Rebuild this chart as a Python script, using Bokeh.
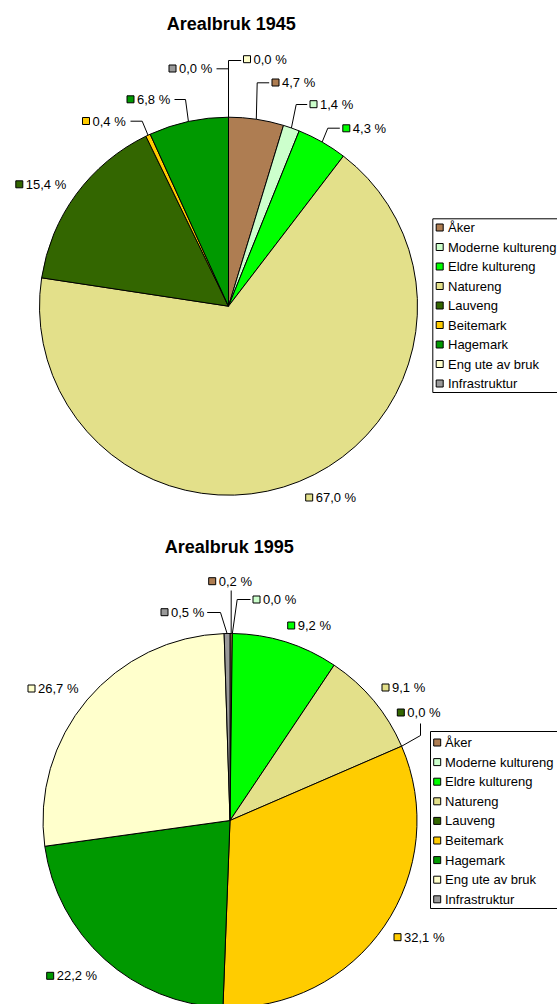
import math
from bokeh.plotting import figure
from bokeh.models import Range1d, ColumnDataSource
from bokeh.core.properties import value
from bokeh.embed import file_html
from bokeh.resources import INLINE

# ---------------- data ----------------
categories = ["Åker", "Moderne kultureng", "Eldre kultureng", "Natureng", "Lauveng",
              "Beitemark", "Hagemark", "Eng ute av bruk", "Infrastruktur"]
colors = ["#AE7D52", "#CCFFCC", "#00FF00", "#E3E08A", "#336600",
          "#FFCC00", "#009900", "#FFFFCC", "#999999"]
values_1945 = [4.7, 1.4, 4.3, 67.0, 15.4, 0.4, 6.8, 0.0, 0.0]
values_1995 = [0.2, 0.0, 9.2, 9.1, 0.0, 32.1, 22.2, 26.7, 0.5]
titles = ["Arealbruk 1945", "Arealbruk 1995"]

# ---------------- layout (page pixel coordinates) ----------------
charts = [
    dict(title=titles[0], values=values_1945, cx=228.0, cy=305.7, r=189.0, tx=230.8, ty=23.3,
         lab=[(275, 82), (313, 103.7), (345.8, 127.8), (308.7, 497), (18.8, 183.8),
              (85.5, 120.5), (130, 98.8), (246.5, 58.7), (172, 68)],
         lead=[[(256.7, 82.3), (268.7, 82.3)], [(295.7, 104), (306.7, 104)],
               [(327.3, 127.7), (339.3, 127.7)], None, None,
               [(141.7, 120.7), (130, 120.7)], [(185, 99), (174, 99)],
               [(228, 60), (240.7, 60)], [(228, 68.3), (216, 68.3)]],
         leg_left=432.3, leg_top=218.3, leg_bottom=392, leg_mx=439.2, leg_tx=447.5,
         leg_y0=227, leg_dy=19.5),
    dict(title=titles[1], values=values_1995, cx=229.5, cy=820.0, r=187.0, tx=228.8, ty=546.7,
         lab=[(211.7, 580.7), (256, 599), (290.7, 625), (385, 687), (400.3, 712),
              (397, 936.7), (49.7, 975.3), (31, 688), (164, 611.7)],
         lead=[[(230.7, 590)], [(236.7, 599), (250, 599)], None, None,
               [(420, 735), (420, 723)], None, None, None,
               [(220, 612), (206.7, 612)]],
         leg_left=430.0, leg_top=731, leg_bottom=908, leg_mx=436.7, leg_tx=444.5,
         leg_y0=742, leg_dy=19.6),
]

FONT = value("Liberation Sans")
W, H = 557, 1004


def Y(py):
    return 1008 - py


p = figure(width=W, height=H, x_range=Range1d(0, W), y_range=Range1d(1008 - H, 1008),
           output_backend="svg", toolbar_location=None, x_axis_type=None, y_axis_type=None,
           min_border=0, outline_line_color=None)
p.grid.visible = False
p.background_fill_color = "white"
p.border_fill_color = "white"

for ch in charts:
    vals = ch["values"]
    cx, cy, r = ch["cx"], ch["cy"], ch["r"]

    # wedges (clockwise from 12 o'clock)
    ws = dict(x=[], y=[], r=[], s=[], e=[], c=[])
    cum = 0.0
    mids = []
    for v, c in zip(vals, colors):
        a0 = math.pi / 2 - 2 * math.pi * cum / 100.0
        mids.append(cum + v / 2.0)
        cum += v
        a1 = math.pi / 2 - 2 * math.pi * cum / 100.0
        if v > 0:
            ws["x"].append(cx); ws["y"].append(Y(cy)); ws["r"].append(r)
            ws["s"].append(a0); ws["e"].append(a1); ws["c"].append(c)
    p.wedge(x="x", y="y", radius="r", start_angle="s", end_angle="e", direction="clock",
            fill_color="c", line_color="black", line_width=1, source=ColumnDataSource(ws))

    # leader lines
    xs, ys = [], []
    for m, ld in zip(mids, ch["lead"]):
        if not ld:
            continue
        ang = 2 * math.pi * m / 100.0
        ex = cx + r * math.sin(ang)
        ey = cy - r * math.cos(ang)
        pts = [(ex, ey)] + list(ld)
        xs.append([q[0] for q in pts])
        ys.append([Y(q[1]) for q in pts])
    p.multi_line(xs=xs, ys=ys, line_color="black", line_width=1)

    # data labels
    lx = [q[0] for q in ch["lab"]]
    ly = [Y(q[1]) for q in ch["lab"]]
    p.rect(x=lx, y=ly, width=7, height=7, fill_color=colors, line_color="black", line_width=1)
    texts = [("%.1f" % v).replace(".", ",") + " %" for v in vals]
    p.text(x=[x + 6.5 for x in lx], y=ly, text=texts, text_font=FONT, text_font_size="13px",
           text_color="black", text_align="left", text_baseline="middle")

    # title
    p.text(x=[ch["tx"]], y=[Y(ch["ty"])], text=[ch["title"]], text_font=FONT,
           text_font_size="18px", text_font_style="bold", text_color="black",
           text_align="center", text_baseline="alphabetic")

    # legend
    L, T, B = ch["leg_left"], ch["leg_top"], ch["leg_bottom"]
    R = 575
    p.rect(x=[(L + R) / 2], y=[Y((T + B) / 2)], width=R - L, height=B - T,
           fill_color="white", line_color="black", line_width=1)
    gy = [Y(ch["leg_y0"] + i * ch["leg_dy"]) for i in range(len(categories))]
    p.rect(x=[ch["leg_mx"]] * len(categories), y=gy, width=7, height=7,
           fill_color=colors, line_color="black", line_width=1)
    p.text(x=[ch["leg_tx"]] * len(categories), y=gy, text=categories, text_font=FONT,
           text_font_size="13px", text_color="black", text_align="left",
           text_baseline="middle")

open("out.html", "w").write(file_html(p, INLINE))
